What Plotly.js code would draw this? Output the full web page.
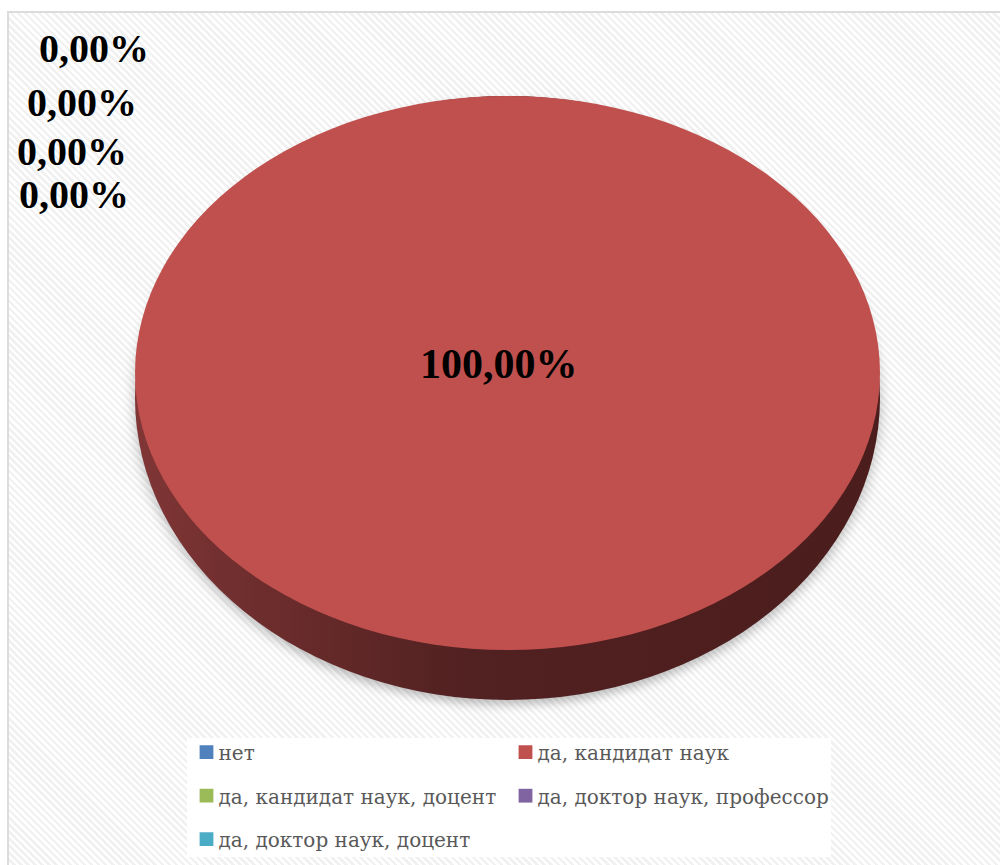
<!DOCTYPE html>
<html>
<head>
<meta charset="utf-8">
<script src="https://cdn.plot.ly/plotly-3.0.1.min.js"></script>
<style>
html,body{margin:0;padding:0;background:#ffffff;}
#bg{position:absolute;left:7px;top:11px;width:993px;height:854px;box-sizing:border-box;
  border-left:2px solid #dcdcdc;border-top:2px solid #dcdcdc;
  background:repeating-linear-gradient(45deg,#ffffff 0px,#ffffff 2.5px,#f1f1f1 2.5px,#f1f1f1 5px);}
#chart{position:absolute;left:0;top:0;width:1000px;height:865px;}
</style>
</head>
<body>
<div id="bg"></div>
<div id="chart"></div>
<script>
// ---- data ----
const categories = ['нет', 'да, кандидат наук', 'да, кандидат наук, доцент', 'да, доктор наук, профессор', 'да, доктор наук, доцент'];
const shares = [0, 100, 0, 0, 0];
const sliceColors = ['#4F81BD', '#C0504D', '#9BBB59', '#8064A2', '#4BACC6'];
const sideColors = ['#2b4668', '#4d1f1f', '#56682f', '#463658', '#285f6e'];

// ---- geometry (pixels) ----
const W = 1000, H = 865;
const M = {l: 100, r: 100, t: 10, b: 10};
const gsW = W - M.l - M.r, gsH = H - M.t - M.b;
const CX = 507.5, CY = 373, RY = 277, RX = 372.5, DEPTH = 50;
const ROW_PITCH = 43.5;
const LEG = {left: 186.5, top: 738, right: 831, bottom: 857, firstRow: 753, textX: 32, symbolScale: 1.15};

const fx = px => (px - M.l) / gsW;
const fy = py => (H - M.b - py) / gsH;
function domainFor(cx, cy, r) {
  return {x: [fx(cx - 360), fx(cx + 360)], y: [fy(cy + r), fy(cy - r)]};
}

const total = shares.reduce((a, b) => a + b, 0);
const pctText = v => (v / total * 100).toFixed(2).replace('.', ',') + '%';

// label anchor positions (px): zero slices stacked at top-left, main slice in the middle
const zeroLabelPos = [[94, 49], [82, 102], [71.5, 151], [74, 194.5]];
const mainLabelPos = [499, 363.5];

const annotations = [];
let zi = 0;
shares.forEach((v, i) => {
  const main = v > 0;
  const pos = main ? mainLabelPos : zeroLabelPos[zi++];
  annotations.push({
    xref: 'paper', yref: 'paper', x: fx(pos[0]), y: fy(pos[1]),
    xanchor: 'center', yanchor: 'middle', showarrow: false,
    text: pctText(v),
    font: {family: 'Liberation Serif, serif', size: main ? 42 : 40, color: '#000000', weight: 'bold'}
  });
});

const base = {
  type: 'pie', labels: categories, values: shares, sort: false,
  direction: 'clockwise', rotation: 0, textinfo: 'none', hoverinfo: 'skip'
};

const traces = [
  Object.assign({}, base, {
    name: 'side', showlegend: false,
    marker: {colors: sideColors, line: {width: 0}},
    domain: domainFor(CX, CY + DEPTH / 2, RY + DEPTH / 2)
  }),
  Object.assign({}, base, {
    name: 'top', showlegend: true,
    marker: {colors: sliceColors, line: {width: 0}},
    domain: domainFor(CX, CY, RY)
  })
];

const layout = {
  width: W, height: H, margin: M,
  paper_bgcolor: 'rgba(0,0,0,0)', plot_bgcolor: 'rgba(0,0,0,0)',
  showlegend: true,
  legend: {
    orientation: 'h', x: fx(LEG.left), y: fy(LEG.top), xanchor: 'left', yanchor: 'top',
    entrywidth: 274, bgcolor: '#ffffff', borderwidth: 0,
    font: {family: 'DejaVu Serif, serif', size: 20, color: '#595959'}
  },
  annotations: annotations
};

Plotly.newPlot('chart', traces, layout, {displayModeBar: false, staticPlot: true}).then(gd => {
  const NS = 'http://www.w3.org/2000/svg';
  const svg = gd.querySelector('svg.main-svg');
  let defs = svg.querySelector('defs');
  if (!defs) { defs = document.createElementNS(NS, 'defs'); svg.insertBefore(defs, svg.firstChild); }
  const grad = document.createElementNS(NS, 'linearGradient');
  grad.setAttribute('id', 'sideGrad');
  grad.setAttribute('gradientUnits', 'userSpaceOnUse');
  grad.setAttribute('x1', CX - RX); grad.setAttribute('x2', CX + RX);
  grad.setAttribute('y1', 0); grad.setAttribute('y2', 0);
  [[0, '#8e3d3c'], [0.18, '#743030'], [0.45, '#522121'], [1, '#4a1c1c']].forEach(s => {
    const st = document.createElementNS(NS, 'stop');
    st.setAttribute('offset', s[0]); st.setAttribute('stop-color', s[1]);
    grad.appendChild(st);
  });
  defs.appendChild(grad);

  // stretch the round pies into ellipses of half-width RX
  const pieTraces = gd.querySelectorAll('.pielayer .trace');
  pieTraces.forEach((tr, i) => {
    const cd = gd.calcdata[i][0];
    const sx = RX / cd.r;
    tr.querySelectorAll('path.surface').forEach(p => {
      p.setAttribute('transform', 'translate(' + cd.cx + ',' + cd.cy + ') scale(' + sx + ',1) translate(' + (-cd.cx) + ',' + (-cd.cy) + ')');
      if (i === 0) {
        p.style.fill = 'url(#sideGrad)';
        p.style.filter = 'drop-shadow(0px 5px 5px rgba(0,0,0,0.25))';
      }
    });
  });

  // legend: text closer to symbols, row spacing, box
  const parse = t => { const m = /translate\(\s*([-\d.]+)[ ,]+([-\d.]+)/.exec(t || ''); return m ? [+m[1], +m[2]] : [0, 0]; };
  const legendG = gd.querySelector('g.legend');
  if (legendG) {
    const [lx, ly] = parse(legendG.getAttribute('transform'));
    const items = Array.from(legendG.querySelectorAll('.traces'));
    items.forEach(it => {
      const t = it.querySelector('text.legendtext');
      if (t) t.setAttribute('x', LEG.textX);
      it.querySelectorAll('.legendpoints path').forEach(p => {
        const old = p.getAttribute('transform') || '';
        p.setAttribute('transform', old + ' scale(' + LEG.symbolScale + ')');
      });
    });
    const ys = Array.from(new Set(items.map(it => parse(it.getAttribute('transform'))[1]))).sort((a, b) => a - b);
    let delta = 0;
    const t0 = items[0] && items[0].querySelector('text.legendtext');
    if (t0) {
      const r = t0.getBoundingClientRect();
      delta = LEG.firstRow - (r.top + r.bottom) / 2;
    }
    items.forEach(it => {
      const [x, y] = parse(it.getAttribute('transform'));
      const k = ys.indexOf(y);
      it.setAttribute('transform', 'translate(' + x + ',' + (ys[0] + delta + k * ROW_PITCH) + ')');
    });
    const bg = legendG.querySelector('rect.bg');
    if (bg) {
      bg.setAttribute('x', 0);
      bg.setAttribute('y', LEG.top - ly);
      bg.setAttribute('width', LEG.right - lx);
      bg.setAttribute('height', LEG.bottom - LEG.top);
    }
    gd.querySelectorAll('clipPath[id^="legend"] rect').forEach(r => {
      r.setAttribute('x', 0);
      r.setAttribute('y', LEG.top - ly - 5);
      r.setAttribute('width', LEG.right - lx + 20);
      r.setAttribute('height', LEG.bottom - LEG.top + 10);
    });
  }
});
</script>
</body>
</html>
